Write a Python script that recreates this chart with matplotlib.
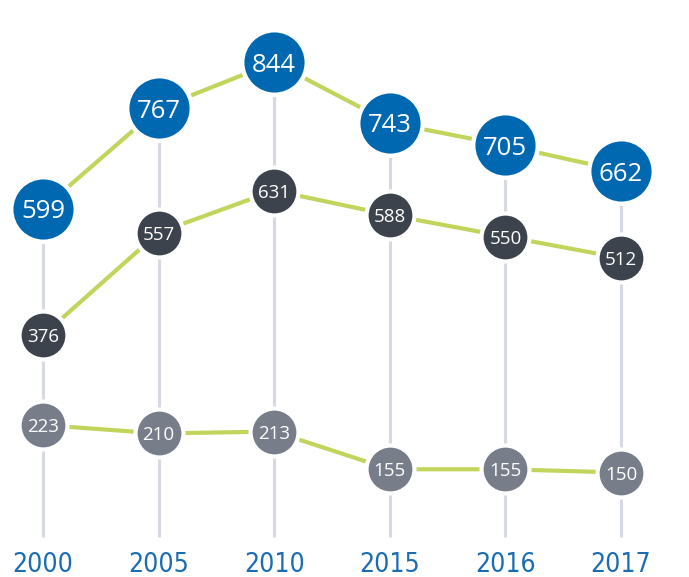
import matplotlib
matplotlib.use("Agg")
import matplotlib.pyplot as plt
from matplotlib import font_manager

years = ["2000", "2005", "2010", "2015", "2016", "2017"]
top_vals = [599, 767, 844, 743, 705, 662]
mid_vals = [376, 557, 631, 588, 550, 512]
low_vals = [223, 210, 213, 155, 155, 150]

BLUE = "#0067b1"
DARK = "#3d434d"
GREY = "#787d8a"
GREEN = "#c2d45c"
VLINE = "#d6d9e1"

W, H = 689, 577
fig = plt.figure(figsize=(W / 100, H / 100), dpi=100)
fig.patch.set_facecolor("white")

x = list(range(len(years)))
xlim = (-0.372, 5.588)

ylims = {
    "top": (-18.0, 948.5),
    "mid": (-50.5, 967.1),
    "low": (-10.5, 875.9),
}

ax_top = fig.add_axes([0, 0, 1, 1])
ax_mid = fig.add_axes([0, 0, 1, 1])
ax_low = fig.add_axes([0, 0, 1, 1])
for a, key in ((ax_top, "top"), (ax_mid, "mid"), (ax_low, "low")):
    a.set_xlim(*xlim)
    a.set_ylim(*ylims[key])
    a.axis("off")
    a.patch.set_alpha(0)

ax_top.set_zorder(1)
ax_mid.set_zorder(2)
ax_low.set_zorder(3)

lo, hi = ylims["top"]
bottom_frac = 1 - 537 / H
ybot = lo + bottom_frac * (hi - lo)
ax_top.vlines(x, ybot, top_vals, color=VLINE, lw=2.2, zorder=0)


def series(ax, vals, color, ms, fs, lw_edge=3.0):
    ax.plot(x, vals, color=GREEN, lw=3.0, zorder=2, solid_capstyle="butt")
    ax.plot(x, vals, "o", ms=ms, mfc=color, mec="white", mew=lw_edge, zorder=3)
    for xi, v in zip(x, vals):
        ax.text(xi, v, str(v), ha="center", va="center_baseline", color="white",
                fontsize=fs, family=["Open Sans", "DejaVu Sans"], zorder=4)


series(ax_top, top_vals, BLUE, 46.5, 18.5, 3.2)
series(ax_mid, mid_vals, DARK, 34.5, 13.5)
series(ax_low, low_vals, GREY, 34.5, 13.5)

# condensed face for the year labels
cond = None
for f in font_manager.fontManager.ttflist:
    if "condensed" in f.fname.lower() and "DejaVuSans" in f.fname and "Bold" not in f.fname \
            and "Oblique" not in f.fname and "Mono" not in f.fname:
        cond = f.fname
        break
if cond is None:
    for f in font_manager.fontManager.ttflist:
        if "Narrow" in f.name or "Condensed" in f.name:
            cond = f.fname
            break

label_y = 1 - 572 / H
for xi, lab in zip(x, years):
    kw = dict(fontproperties=font_manager.FontProperties(fname=cond, size=19)) if cond else dict(fontsize=18)
    ax_low.text(xi, label_y, lab, transform=ax_low.get_xaxis_transform(), ha="center",
                va="baseline", color="#1a6cb3", **kw)

fig.savefig("out.png", dpi=100, facecolor="white")
